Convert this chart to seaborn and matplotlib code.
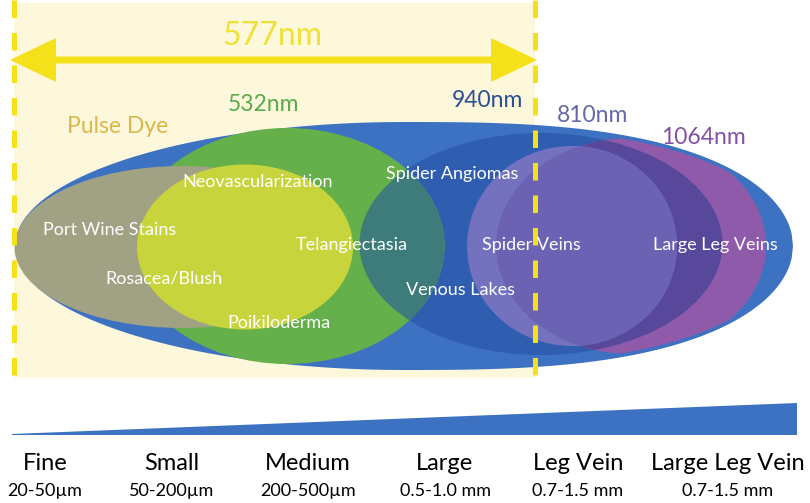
import numpy as np
import matplotlib.pyplot as plt
import seaborn as sns
from matplotlib.patches import Ellipse, Rectangle, FancyArrow, Polygon

# Labels shown in the diagram
wavelengths = ["577nm", "532nm", "940nm", "810nm", "1064nm"]
laser_name = "Pulse Dye"
conditions = ["Neovascularization", "Port Wine Stains", "Rosacea/Blush", "Poikiloderma",
              "Telangiectasia", "Spider Angiomas", "Venous Lakes", "Spider Veins",
              "Large Leg Veins"]
vessel_types = ["Fine", "Small", "Medium", "Large", "Leg Vein", "Large Leg Vein"]
vessel_sizes = ["20-50µm", "50-200µm", "200-500µm", "0.5-1.0 mm", "0.7-1.5 mm", "0.7-1.5 mm"]

sns.set_theme(style="white")
plt.rcParams['font.family'] = ['Lato', 'DejaVu Sans']

fig = plt.figure(figsize=(8.1, 5.03), dpi=100)
ax = fig.add_axes([0, 0, 1, 1])
ax.set_xlim(0, 810)
ax.set_ylim(503, 0)
ax.axis('off')

# 577nm band
ax.add_patch(Rectangle((14, 3), 521, 375, facecolor='#fdf7dc', edgecolor='none', zorder=0))

# outer blue shape: round on the left, more pointed on the right
cx, cy, a, b = 404, 246, 389, 124
u = np.linspace(0, 1, 300)
xs = np.concatenate([cx - a * u[::-1], cx + a * u, cx + a * u[::-1], cx - a * u])
hs = np.concatenate([b * np.sqrt(1 - u[::-1] ** 2), b * np.sqrt(1 - u ** 2.8),
                     -b * np.sqrt(1 - u[::-1] ** 2.8), -b * np.sqrt(1 - u ** 2)])
big = Polygon(np.column_stack([xs, cy - hs]), closed=True, facecolor='#3d72c2',
              edgecolor='none', zorder=1)
ax.add_patch(big)

# slightly smaller copy, used to keep a thin blue rim round the purple shapes
inner = Polygon(np.column_stack([cx + (xs - cx) * 0.99, cy - hs * 0.97]), closed=True,
                facecolor='none', edgecolor='none')
ax.add_patch(inner)

def ell(x, y, w, h, color, z, clip=None):
    e = Ellipse((x, y), w, h, facecolor=color, edgecolor='none', zorder=z)
    ax.add_patch(e)
    if clip is not None:
        e.set_clip_path(clip)
    return e

e940 = ell(541, 244, 363, 222, '#2f5eb0', 2, clip=big)
ell(631, 246, 270, 216, '#8e5aa9', 3, clip=inner)          # 1064nm
ell(631, 246, 270, 216, '#57489c', 4, clip=e940)           # 1064 & 940
e810 = ell(572, 246, 210, 200, '#7472bf', 5, clip=inner)
ell(631, 246, 270, 216, '#6b62b3', 6, clip=e810)           # 1064 & 810
green = ell(287, 246, 315, 236, '#65b04a', 7)              # 532nm
ell(541, 244, 363, 222, '#3d7c7a', 8, clip=green)          # 532 & 940
ell(182, 247, 335, 162, '#a0a283', 9)                      # pulse dye
ell(245, 247, 216, 165, '#c8d43c', 10)

# dashed band edges
for x in [14, 535]:
    ax.plot([x, x], [0, 380], color='#f5e11a', lw=3.6, dashes=(3.5, 3), zorder=12)

# double-headed arrow
mid = 273
for tip in [10, 537]:
    ax.add_patch(FancyArrow(mid, 60, tip - mid, 0, width=7, head_width=44, head_length=46,
                            length_includes_head=True, color='#f5e11a', lw=0, zorder=12))

# wavelength labels
wl_x = [272, 264, 487, 593, 703]
wl_y = [36, 104, 100, 115, 137]
wl_colors = ['#efe236', '#5aac4a', '#2c4f93', '#6468a8', '#8450a2']
wl_sizes = [23, 16.5, 16.5, 16.5, 16.5]
for t, x, y, c, s in zip(wavelengths, wl_x, wl_y, wl_colors, wl_sizes):
    ax.text(x, y, t, color=c, fontsize=s, ha='center', va='center', zorder=13)
ax.text(118, 126, laser_name, color='#d9b748', fontsize=16.5, ha='center', va='center', zorder=13)

# condition labels
cond_x = [258, 110, 164, 279, 352, 452, 461, 531, 715]
cond_y = [182, 230, 278, 323, 245, 174, 290, 245, 245]
for t, x, y in zip(conditions, cond_x, cond_y):
    ax.text(x, y, t, color='white', fontsize=13, ha='center', va='center', zorder=13)

# vessel size wedge
ax.add_patch(Polygon([(12, 434), (797, 403), (797, 435), (12, 435)], closed=True,
                     facecolor='#3d72c2', edgecolor='none', zorder=1))

vx = [45, 172, 308, 445, 578, 728]
for t, s, x in zip(vessel_types, vessel_sizes, vx):
    ax.text(x, 464, t, color='black', fontsize=17, ha='center', va='center')
    ax.text(x, 491, s, color='black', fontsize=13, ha='center', va='center')

fig.savefig('out.png', dpi=100)
